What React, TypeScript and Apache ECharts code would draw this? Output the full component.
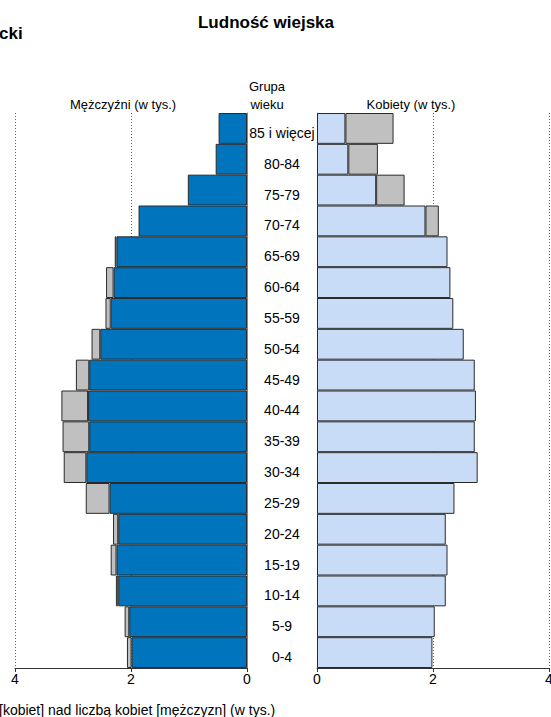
import React, { useEffect, useRef } from "react";
import * as echarts from "echarts";

const categories = ["0-4", "5-9", "10-14", "15-19", "20-24", "25-29", "30-34", "35-39", "40-44", "45-49", "50-54", "55-59", "60-64", "65-69", "70-74", "75-79", "80-84", "85 i więcej"];
const male = [2.07, 2.11, 2.26, 2.35, 2.31, 2.78, 3.16, 3.18, 3.2, 2.95, 2.68, 2.44, 2.43, 2.28, 1.87, 1.02, 0.54, 0.49];
const female = [1.99, 2.03, 2.22, 2.25, 2.22, 2.37, 2.77, 2.72, 2.74, 2.72, 2.53, 2.35, 2.3, 2.25, 2.1, 1.51, 1.05, 1.32];
const xTicks = [0, 2, 4];

const FONT = "'Liberation Sans', Arial, sans-serif";

export default function App() {
  const ref = useRef<HTMLDivElement>(null);
  useEffect(() => {
    if (!ref.current) return;
    const chart = echarts.init(ref.current, undefined, { renderer: "svg" });
    const common = male.map((m, i) => Math.min(m, female[i]));
    const maleExcess = male.map((m, i) => {
      const d = +(m - common[i]).toFixed(2);
      return d > 0 ? d : null;
    });
    const femaleExcess = female.map((f, i) => {
      const d = +(f - common[i]).toFixed(2);
      return d > 0 ? d : null;
    });
    const xAxisBase = (gridIndex: number, inverse: boolean) => ({
      type: "value",
      gridIndex,
      inverse,
      min: xTicks[0],
      max: xTicks[xTicks.length - 1],
      interval: 2,
      axisLine: { show: true, lineStyle: { color: "#333", width: 1 } },
      axisTick: { show: true, length: 4, lineStyle: { color: "#333" } },
      axisLabel: { color: "#000", fontSize: 14, fontFamily: FONT, margin: 4 },
      splitLine: { show: true, lineStyle: { color: "#5050ff", type: [1, 2], width: 1 } },
    });
    const barBorder = { borderColor: "#2a2a2a", borderWidth: 1 };
    chart.setOption({
      animation: false,
      textStyle: { fontFamily: FONT },
      grid: [
        { left: 15, width: 232, top: 113, height: 555, outerBoundsMode: "none", containLabel: false },
        { left: 317, width: 232, top: 113, height: 555, outerBoundsMode: "none", containLabel: false },
      ],
      xAxis: [xAxisBase(0, true), xAxisBase(1, false)],
      yAxis: [
        {
          type: "category",
          gridIndex: 0,
          position: "right",
          data: categories,
          axisLine: { show: true, lineStyle: { color: "#8a8a8a", width: 1 } },
          axisTick: { show: false },
          axisLabel: {
            show: true,
            align: "center",
            margin: 35,
            fontSize: 14,
            fontFamily: FONT,
            color: "#000",
            formatter: (v: string) => `{a|${v}}`,
            rich: { a: { fontSize: 14, fontFamily: FONT, color: "#000", padding: [9, 0, 0, 0] } },
          },
        },
        {
          type: "category",
          gridIndex: 1,
          position: "left",
          data: categories,
          axisLine: { show: true, lineStyle: { color: "#8a8a8a", width: 1 } },
          axisTick: { show: false },
          axisLabel: { show: false },
        },
      ],
      series: [
        {
          type: "bar",
          xAxisIndex: 0,
          yAxisIndex: 0,
          stack: "L",
          data: common,
          barCategoryGap: 0,
          itemStyle: { color: "#0074bc", ...barBorder },
        },
        {
          type: "bar",
          xAxisIndex: 0,
          yAxisIndex: 0,
          stack: "L",
          data: maleExcess,
          barCategoryGap: 0,
          itemStyle: { color: "#c0c0c0", ...barBorder },
        },
        {
          type: "bar",
          xAxisIndex: 1,
          yAxisIndex: 1,
          stack: "R",
          data: common,
          barCategoryGap: 0,
          itemStyle: { color: "#c9dcf7", ...barBorder },
        },
        {
          type: "bar",
          xAxisIndex: 1,
          yAxisIndex: 1,
          stack: "R",
          data: femaleExcess,
          barCategoryGap: 0,
          itemStyle: { color: "#c0c0c0", ...barBorder },
        },
      ],
      graphic: [
        { type: "text", x: 266, y: 22, style: { text: "Ludność wiejska", font: `bold 17px ${FONT}`, fill: "#000", textAlign: "center", textVerticalAlign: "middle" } },
        { type: "text", x: -1, y: 33, style: { text: "cki", font: `bold 17px ${FONT}`, fill: "#000", textAlign: "left", textVerticalAlign: "middle" } },
        { type: "text", x: 267, y: 86, style: { text: "Grupa", font: `13px ${FONT}`, fill: "#000", textAlign: "center", textVerticalAlign: "middle" } },
        { type: "text", x: 267, y: 104, style: { text: "wieku", font: `13px ${FONT}`, fill: "#000", textAlign: "center", textVerticalAlign: "middle" } },
        { type: "text", x: 123, y: 104, style: { text: "Mężczyźni (w tys.)", font: `13px ${FONT}`, fill: "#000", textAlign: "center", textVerticalAlign: "middle" } },
        { type: "text", x: 411, y: 104, style: { text: "Kobiety (w tys.)", font: `13px ${FONT}`, fill: "#000", textAlign: "center", textVerticalAlign: "middle" } },
        { type: "text", x: -1, y: 710, style: { text: "[kobiet] nad liczbą kobiet [mężczyzn] (w tys.)", font: `14px ${FONT}`, fill: "#000", textAlign: "left", textVerticalAlign: "middle" } },
      ],
    });
    return () => chart.dispose();
  }, []);
  return <div ref={ref} style={{ position: "absolute", left: 0, top: 0, width: 551, height: 717 }} />;
}
